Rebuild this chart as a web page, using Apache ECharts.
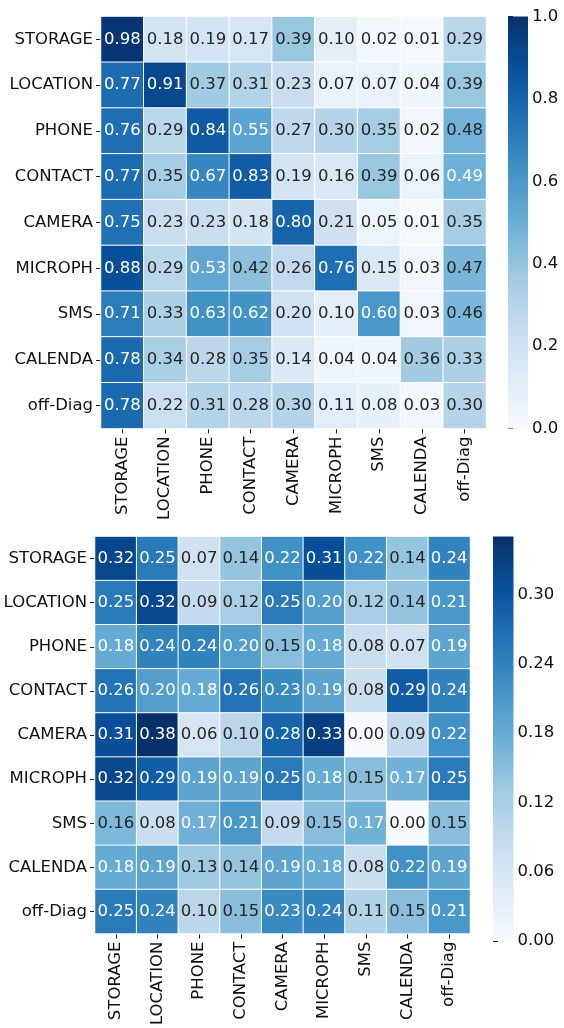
<!DOCTYPE html>
<html>
<head>
<meta charset="utf-8">
<script src="https://cdn.jsdelivr.net/npm/echarts@6/dist/echarts.min.js"></script>
<style>
html,body{margin:0;padding:0;background:#fff;}
#chart{width:564px;height:1028px;}
</style>
</head>
<body>
<div id="chart"></div>
<script>
const categories = ['STORAGE','LOCATION','PHONE','CONTACT','CAMERA','MICROPH','SMS','CALENDA','off-Diag'];

const topValues = [
  [0.98,0.18,0.19,0.17,0.39,0.10,0.02,0.01,0.29],
  [0.77,0.91,0.37,0.31,0.23,0.07,0.07,0.04,0.39],
  [0.76,0.29,0.84,0.55,0.27,0.30,0.35,0.02,0.48],
  [0.77,0.35,0.67,0.83,0.19,0.16,0.39,0.06,0.49],
  [0.75,0.23,0.23,0.18,0.80,0.21,0.05,0.01,0.35],
  [0.88,0.29,0.53,0.42,0.26,0.76,0.15,0.03,0.47],
  [0.71,0.33,0.63,0.62,0.20,0.10,0.60,0.03,0.46],
  [0.78,0.34,0.28,0.35,0.14,0.04,0.04,0.36,0.33],
  [0.78,0.22,0.31,0.28,0.30,0.11,0.08,0.03,0.30]
];

const bottomValues = [
  [0.32,0.25,0.07,0.14,0.22,0.31,0.22,0.14,0.24],
  [0.25,0.32,0.09,0.12,0.25,0.20,0.12,0.14,0.21],
  [0.18,0.24,0.24,0.20,0.15,0.18,0.08,0.07,0.19],
  [0.26,0.20,0.18,0.26,0.23,0.19,0.08,0.29,0.24],
  [0.31,0.38,0.06,0.10,0.28,0.33,0.00,0.09,0.22],
  [0.32,0.29,0.19,0.19,0.25,0.18,0.15,0.17,0.25],
  [0.16,0.08,0.17,0.21,0.09,0.15,0.17,0.00,0.15],
  [0.18,0.19,0.13,0.14,0.19,0.18,0.08,0.22,0.19],
  [0.25,0.24,0.10,0.15,0.23,0.24,0.11,0.15,0.21]
];

const topScale = {min: 0, max: 1.0, ticks: [0,0.2,0.4,0.6,0.8,1.0], digits: 1};
const bottomScale = {min: 0, max: 0.35, ticks: [0,0.06,0.12,0.18,0.24,0.30], digits: 2};

const BLUES = ['#f7fbff','#deebf7','#c6dbef','#9ecae1','#6baed6','#4292c6','#2171b5','#08519c','#08306b'];
const FONT = "'DejaVu Sans', sans-serif";
const FS = 16.5;

function buildData(values, scale) {
  const out = [];
  values.forEach((row, r) => {
    row.forEach((v, c) => {
      const t = (v - scale.min) / (scale.max - scale.min);
      out.push({
        value: [c, r, v],
        label: {color: t >= 0.484 ? '#ffffff' : '#262626'}
      });
    });
  });
  return out;
}

const layout = {
  top:    {left: 101, top: 16.5, width: 385, height: 412, cbLeft: 508, cbWidth: 20},
  bottom: {left: 95,  top: 536.5, width: 375, height: 404.5, cbLeft: 493, cbWidth: 20.5}
};

function catX(gi) {
  return {
    type: 'category', gridIndex: gi, data: categories, position: 'bottom',
    axisLine: {show: false},
    axisTick: {show: true, alignWithLabel: true, length: 5, lineStyle: {color: '#222', width: 1}},
    axisLabel: {rotate: 90, fontSize: FS, fontFamily: FONT, color: '#111', margin: 8, interval: 0},
    splitLine: {show: false}, splitArea: {show: false}
  };
}
function catY(gi) {
  return {
    type: 'category', gridIndex: gi, data: categories, inverse: true,
    axisLine: {show: false},
    axisTick: {show: true, alignWithLabel: true, length: 5, lineStyle: {color: '#222', width: 1}},
    axisLabel: {fontSize: FS, fontFamily: FONT, color: '#111', margin: 8, interval: 0},
    splitLine: {show: false}, splitArea: {show: false}
  };
}
function cbY(gi, scale) {
  return {
    type: 'value', gridIndex: gi, position: 'right', min: scale.min, max: scale.max,
    axisLine: {show: false},
    splitLine: {show: false},
    axisTick: {show: true, length: 5, customValues: scale.ticks, lineStyle: {color: '#222', width: 1}},
    axisLabel: {show: true, customValues: scale.ticks, fontSize: FS, fontFamily: FONT, color: '#111', margin: 4,
      formatter: v => Number(v).toFixed(scale.digits)}
  };
}
function cbX(gi) {
  return {type: 'value', gridIndex: gi, show: false, min: 0, max: 1};
}

function colorbarSeries(gi, scale) {
  return {
    type: 'custom', xAxisIndex: gi, yAxisIndex: gi, silent: true,
    data: [[0, 1, scale.min, scale.max]],
    renderItem: function (params, api) {
      const p0 = api.coord([api.value(0), api.value(3)]);
      const p1 = api.coord([api.value(1), api.value(2)]);
      const stops = BLUES.map((c, i) => ({offset: i / (BLUES.length - 1), color: c}));
      return {
        type: 'rect',
        shape: {x: p0[0], y: p0[1], width: p1[0] - p0[0], height: p1[1] - p0[1]},
        style: {fill: new echarts.graphic.LinearGradient(0, 1, 0, 0, stops)}
      };
    }
  };
}

const T = layout.top, B = layout.bottom;

const option = {
  backgroundColor: '#fff',
  animation: false,
  grid: [
    {left: T.left, top: T.top, width: T.width, height: T.height},
    {left: B.left, top: B.top, width: B.width, height: B.height},
    {left: T.cbLeft, top: T.top, width: T.cbWidth, height: T.height},
    {left: B.cbLeft, top: B.top, width: B.cbWidth, height: B.height}
  ],
  xAxis: [catX(0), catX(1), cbX(2), cbX(3)],
  yAxis: [catY(0), catY(1), cbY(2, topScale), cbY(3, bottomScale)],
  visualMap: [
    {
      type: 'continuous', seriesIndex: 0, min: topScale.min, max: topScale.max, show: false,
      inRange: {color: BLUES}, outOfRange: {color: '#08306b'}
    },
    {
      type: 'continuous', seriesIndex: 1, min: bottomScale.min, max: bottomScale.max, show: false,
      inRange: {color: BLUES}, outOfRange: {color: '#08306b'}
    }
  ],
  series: [
    {
      type: 'heatmap', xAxisIndex: 0, yAxisIndex: 0,
      data: buildData(topValues, topScale),
      itemStyle: {borderColor: '#fff', borderWidth: 1},
      label: {show: true, fontSize: FS, fontFamily: FONT, formatter: p => p.value[2].toFixed(2)},
      emphasis: {disabled: true}
    },
    {
      type: 'heatmap', xAxisIndex: 1, yAxisIndex: 1,
      data: buildData(bottomValues, bottomScale),
      itemStyle: {borderColor: '#fff', borderWidth: 1},
      label: {show: true, fontSize: FS, fontFamily: FONT, formatter: p => p.value[2].toFixed(2)},
      emphasis: {disabled: true}
    },
    colorbarSeries(2, topScale),
    colorbarSeries(3, bottomScale)
  ]
};

const chart = echarts.init(document.getElementById('chart'), null, {renderer: 'canvas'});
chart.setOption(option);
</script>
</body>
</html>
